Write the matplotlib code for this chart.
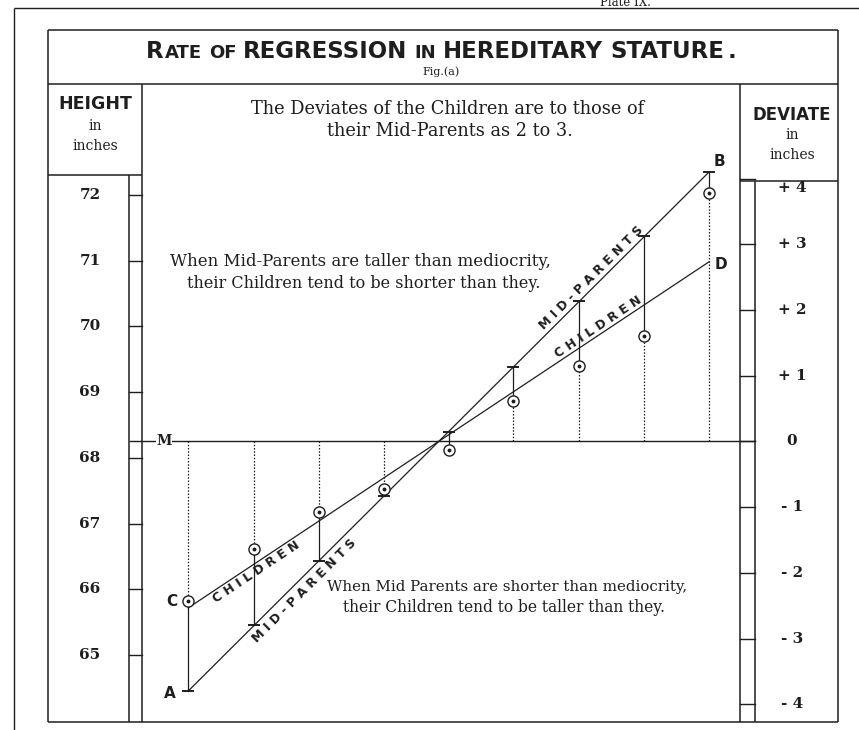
import matplotlib
matplotlib.use('Agg')
import matplotlib.pyplot as plt
import matplotlib.transforms as mtransforms
import numpy as np

# mid-parent heights and the mean height of their children, in inches
mid_parents = [64.45, 65.45, 66.43, 67.42, 68.4, 69.38, 70.38, 71.37, 72.35]
children = [65.82, 66.62, 67.17, 67.52, 68.12, 68.86, 69.4, 69.86, 72.03]
mediocrity = 68.25
ratio = 2 / 3  # deviates of children to those of mid-parents

height_ticks = [72, 71, 70, 69, 68, 67, 66, 65]
deviate_ticks = [4, 3, 2, 1, 0, -1, -2, -3, -4]

INK = '#1e1e1e'
SERIF = ['DejaVu Serif']
SANS = ['DejaVu Sans']

W, H = 859, 730
fig = plt.figure(figsize=(W / 100, H / 100), dpi=100)

# page axes works in pixels, origin top-left
page = fig.add_axes([0, 0, 1, 1])
page.set_xlim(0, W)
page.set_ylim(H, 0)
page.axis('off')

# plotting area: x = mid-parent height, y = height in inches
ax = fig.add_axes([142 / W, (H - 722) / H, (740 - 142) / W, (722 - 84) / H])
ax.set_xlim(63.75, 72.82)
ax.set_ylim(63.98, 73.69)
ax.axis('off')

strip = mtransforms.blended_transform_factory(page.transData, ax.transData)


def rule(x0, y0, x1, y1, lw=1.1):
    page.plot([x0, x1], [y0, y1], color=INK, lw=lw, solid_capstyle='butt')


# page edge and the ruled frame
rule(14, 8, W, 8, lw=1.0)
rule(14, 8, 14, H, lw=1.0)
page.text(625, 3, 'Plate IX.', family=SERIF, fontsize=8.5, ha='center', va='center', color=INK)

rule(48, 30, 838, 30)
rule(48, 722, 838, 722)
rule(48, 30, 48, 722)
rule(838, 30, 838, 722)
rule(48, 84, 838, 84)
rule(48, 175, 142, 175)
rule(740, 181, 838, 181)
rule(142, 84, 142, 722)
rule(740, 84, 740, 722)
rule(129, 175, 129, 722)
rule(755, 181, 755, 722)

# scale strips
for h in height_ticks:
    page.plot([129, 142], [h, h], color=INK, lw=1.0, transform=strip)
    page.text(90, h, str(h), transform=strip, family=SERIF, fontsize=11,
              weight='bold', ha='center', va='center', color=INK)
for d in deviate_ticks:
    y = mediocrity + d
    page.plot([740, 755], [y, y], color=INK, lw=1.0, transform=strip)
    if d > 0:
        lab = '+ %d' % d
    elif d < 0:
        lab = '- %d' % -d
    else:
        lab = '0'
    ly = y - 0.15 if d == 4 else y
    page.text(792, ly, lab, transform=strip, family=SERIF, fontsize=11,
              weight='bold', ha='center', va='center', color=INK)

# mediocrity line M
page.plot([130, 755], [mediocrity, mediocrity], color=INK, lw=1.0, transform=strip)
page.text(164, mediocrity, 'M', transform=strip, family=SERIF, fontsize=10, weight='bold',
          ha='center', va='center', color=INK,
          bbox=dict(facecolor='white', edgecolor='none', pad=0.5))


# title with small capitals
def title_pieces(pieces, xc, y):
    r = fig.canvas.get_renderer()
    items = []
    for s, size, gap in pieces:
        t = page.text(0, y, s, family=SANS, fontsize=size, weight='bold',
                      ha='left', va='baseline', color=INK)
        items.append((t, gap, t.get_window_extent(r).width))
    total = sum(g + w for _, g, w in items)
    x = xc - total / 2
    for t, g, w in items:
        x += g
        t.set_x(x)
        x += w


title_pieces([('R', 16.5, 0), ('ATE', 13, 1), ('OF', 13, 7), ('REGRESSION', 16.5, 7),
              ('IN', 13, 7), ('HEREDITARY', 16.5, 7), ('STATURE', 16.5, 7), ('.', 16.5, 3)],
             441, 58)
page.text(441, 72, 'Fig.(a)', family=SERIF, fontsize=8, ha='center', va='center', color=INK)

# header cells
page.text(95, 104, 'HEIGHT', family=SANS, fontsize=12.5, weight='bold', ha='center', va='center', color=INK)
page.text(95, 126, 'in', family=SERIF, fontsize=10, ha='center', va='center', color=INK)
page.text(95, 146, 'inches', family=SERIF, fontsize=10, ha='center', va='center', color=INK)
page.text(792, 115, 'DEVIATE', family=SANS, fontsize=12, weight='bold', ha='center', va='center', color=INK)
page.text(792, 135, 'in', family=SERIF, fontsize=10, ha='center', va='center', color=INK)
page.text(792, 155, 'inches', family=SERIF, fontsize=10, ha='center', va='center', color=INK)

page.text(448, 109, 'The Deviates of the Children are to those of', family=SERIF,
          fontsize=12.8, ha='center', va='center', color=INK)
page.text(450, 131, 'their Mid-Parents as 2 to 3.', family=SERIF,
          fontsize=12.8, ha='center', va='center', color=INK)

page.text(170, 262, 'When Mid-Parents are taller than mediocrity,', family=SERIF,
          fontsize=12, ha='left', va='center', color=INK)
page.text(187, 283, 'their Children tend to be shorter than they.', family=SERIF,
          fontsize=11.5, ha='left', va='center', color=INK)
page.text(327, 587, 'When Mid Parents are shorter than mediocrity,', family=SERIF,
          fontsize=10.8, ha='left', va='center', color=INK)
page.text(343, 608, 'their Children tend to be taller than they.', family=SERIF,
          fontsize=11.2, ha='left', va='center', color=INK)

# verticals: dotted from M to the children, solid from children to mid-parents
for mp, ch in zip(mid_parents, children):
    ax.plot([mp, mp], [mediocrity, ch], color=INK, lw=0.9, ls=(0, (1.2, 1.4)))
    ax.plot([mp, mp], [ch, mp], color=INK, lw=0.9)

# the two regression lines
mp_x = np.array([mid_parents[0], mid_parents[-1]])
ch_line = lambda x: mediocrity + ratio * (x - mediocrity)
mp_line = lambda x: x
ax.plot(mp_x, mp_line(mp_x), color=INK, lw=0.9)
ax.plot(mp_x, ch_line(mp_x), color=INK, lw=0.9)

ax.plot(mid_parents, mid_parents, ls='none', marker='_', ms=9, mew=1.4, color=INK, zorder=4)
ax.plot(mid_parents, children, ls='none', marker='o', ms=8, mfc='white', mec=INK, mew=1.0, zorder=5)
ax.plot(mid_parents, children, ls='none', marker='o', ms=1.8, color=INK, zorder=6)


def along(text, x, fn, dist, size=9):
    y = fn(x)
    p0 = ax.transData.transform((x, y))
    p1 = ax.transData.transform((x + 1, fn(x + 1)))
    a = np.arctan2(p1[1] - p0[1], p1[0] - p0[0])
    off = (-np.sin(a) * dist, np.cos(a) * dist)
    ax.annotate(text, (x, y), xytext=off, textcoords='offset pixels',
                rotation=np.degrees(a), rotation_mode='anchor', ha='center', va='center',
                family=SANS, fontsize=size, weight='bold', color=INK)


along('M I D - P A R E N T S', 70.65, mp_line, 8)
along('C H I L D R E N', 70.73, ch_line, 7)
along('C H I L D R E N', 65.42, ch_line, -8)
along('M I D - P A R E N T S', 66.09, mp_line, -11)

# end letters
kw = dict(textcoords='offset pixels', family=SANS, fontsize=11, weight='bold',
          ha='center', va='center', color=INK)
ax.annotate('A', (mid_parents[0], mid_parents[0]), xytext=(-18, -2), **kw)
ax.annotate('C', (mid_parents[0], children[0]), xytext=(-16, 0), **kw)
ax.annotate('B', (mid_parents[-1], mid_parents[-1]), xytext=(10, 11), **kw)
ax.annotate('D', (mid_parents[-1], ch_line(mid_parents[-1])), xytext=(12, -3), **kw)

fig.savefig('out.png', dpi=100, facecolor='white')
